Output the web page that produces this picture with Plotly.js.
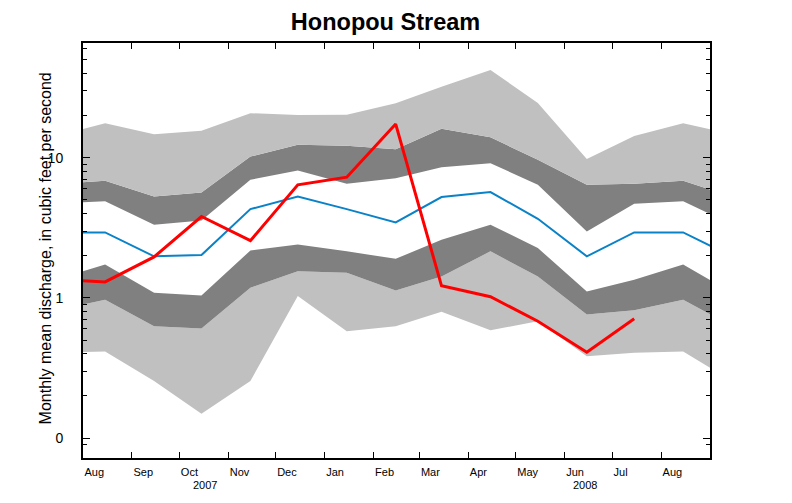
<!DOCTYPE html>
<html>
<head>
<meta charset="utf-8">
<script src="https://cdn.plot.ly/plotly-3.0.1.min.js"></script>
<style>html,body{margin:0;padding:0;background:#fff;}#chart{width:792px;height:503px;}</style>
</head>
<body>
<div id="chart"></div>
<script>
// Monthly dates (mid-month), Jul 2007 .. Sep 2008
const months = ['2007-07-15','2007-08-15','2007-09-15','2007-10-15','2007-11-15','2007-12-15',
  '2008-01-15','2008-02-15','2008-03-15','2008-04-15','2008-05-15','2008-06-15',
  '2008-07-15','2008-08-15','2008-09-15'];
// Percentile band boundaries (cfs), top to bottom
const bandTop      = [14.3, 17.6, 14.7, 15.6, 20.8, 20.2, 20.3, 24.5, 32.1, 42.3, 24.6, 9.8, 14.3, 17.6, 14.7];
const bandUpperMid = [6.52, 6.85, 5.29, 5.65, 10.2, 12.4, 12.2, 11.5, 16.1, 14.0, 9.66, 6.41, 6.52, 6.85, 5.29];
const bandUpperIn  = [4.70, 4.90, 3.33, 3.57, 6.96, 8.11, 6.52, 7.15, 8.57, 9.15, 6.41, 2.98, 4.70, 4.90, 3.33];
const median       = [2.93, 2.93, 1.98, 2.02, 4.30, 5.29, 4.30, 3.46, 5.24, 5.69, 3.67, 1.98, 2.93, 2.93, 1.98];
const bandLowerIn  = [1.35, 1.73, 1.09, 1.04, 2.18, 2.40, 2.15, 1.90, 2.60, 3.33, 2.27, 1.11, 1.35, 1.73, 1.09];
const bandLowerMid = [0.816, 0.97, 0.628, 0.605, 1.18, 1.55, 1.51, 1.13, 1.42, 2.15, 1.42, 0.76, 0.816, 0.97, 0.628];
const bandBottom   = [0.406, 0.414, 0.255, 0.149, 0.255, 1.03, 0.578, 0.628, 0.795, 0.588, 0.681, 0.384, 0.406, 0.414, 0.255];
// Observed monthly mean discharge, Jul 2007 .. Jul 2008
const obsMonths = months.slice(0, 13);
const observed  = [1.36, 1.30, 1.96, 3.81, 2.56, 6.41, 7.27, 17.4, 1.22, 1.02, 0.681, 0.41, 0.709];
// Axis labels
const xTickDates = ['2007-08-01','2007-09-01','2007-10-01','2007-11-01','2007-12-01','2008-01-01',
  '2008-02-01','2008-03-01','2008-04-01','2008-05-01','2008-06-01','2008-07-01','2008-08-01'];
const xTickText = ['Aug','Sep','Oct','Nov','Dec','Jan','Feb','Mar','Apr','May','Jun','Jul','Aug'];
const yTickVals = [0.1, 1, 10];
const yTickText = ['0', '1', '10'];
const yMinorVals = [0.09, 0.2,0.3,0.4,0.5,0.6,0.7,0.8,0.9, 2,3,4,5,6,7,8,9, 20,30,40,50,60];
const yearLabels = [{x: '2007-10-17', text: '2007'}, {x: '2008-06-14', text: '2008'}];

const LIGHT = '#C0C0C0', DARK = '#808080';
function band(y, fill, color) {
  return {x: months, y: y, type: 'scatter', mode: 'lines', line: {width: 0, color: color || 'rgba(0,0,0,0)'},
    fill: fill, fillcolor: color || 'rgba(0,0,0,0)', hoverinfo: 'skip', showlegend: false};
}
const traces = [
  band(bandBottom, 'none', null),
  band(bandLowerMid, 'tonexty', LIGHT),
  band(bandLowerIn, 'tonexty', DARK),
  band(bandUpperIn, 'tonexty', null),
  band(bandUpperMid, 'tonexty', DARK),
  band(bandTop, 'tonexty', LIGHT),
  {x: months, y: median, type: 'scatter', mode: 'lines', line: {color: '#0A82C8', width: 2}, showlegend: false},
  {x: obsMonths, y: observed, type: 'scatter', mode: 'lines', line: {color: '#FF0000', width: 3}, showlegend: false}
];

const FONT = '"Liberation Sans", Arial, Helvetica, sans-serif';
const annotations = yearLabels.map(a => ({x: a.x, y: -0.0645, xref: 'x', yref: 'paper', text: a.text,
  showarrow: false, xanchor: 'center', yanchor: 'middle', font: {family: FONT, size: 11, color: '#000'}}));
annotations.push({x: -0.0606, y: 0.505, xref: 'paper', yref: 'paper', textangle: -90,
  text: 'Monthly mean discharge, in cubic feet per second', showarrow: false,
  xanchor: 'center', yanchor: 'middle', font: {family: FONT, size: 16, color: '#000'}});

const layout = {
  width: 792, height: 503,
  margin: {l: 83, r: 82, t: 43, b: 45},
  paper_bgcolor: '#fff', plot_bgcolor: '#fff',
  font: {family: FONT, color: '#000'},
  title: {text: '<b>Honopou Stream</b>', font: {family: FONT, size: 23.5, color: '#000'},
    x: 0.4825, xref: 'paper', xanchor: 'center', y: 0.956, yanchor: 'middle'},
  xaxis: {type: 'date', range: ['2007-08-01', '2008-09-01'], tickmode: 'array', tickvals: xTickDates, ticktext: xTickText,
    ticks: 'inside', ticklen: 6, tickwidth: 1, tickcolor: '#000', ticklabelstandoff: 3,
    ticklabelposition: 'outside right', tickfont: {family: FONT, size: 11, color: '#000'},
    showline: true, linecolor: '#000', linewidth: 2, mirror: 'ticks', showgrid: false, zeroline: false},
  yaxis: {type: 'log', range: [-1.1425, 1.8189], tickmode: 'array', tickvals: yTickVals, ticktext: yTickText,
    ticks: 'inside', ticklen: 7, tickwidth: 1, tickcolor: '#000', ticklabelstandoff: 15,
    tickfont: {family: FONT, size: 14, color: '#000'},
    minor: {tickmode: 'array', tickvals: yMinorVals, ticks: 'inside', ticklen: 4, tickwidth: 1, tickcolor: '#000', showgrid: false},
    showline: true, linecolor: '#000', linewidth: 2, mirror: 'ticks', showgrid: false, zeroline: false},
  annotations: annotations,
  showlegend: false
};
Plotly.newPlot('chart', traces, layout, {staticPlot: true, displayModeBar: false});
</script>
</body>
</html>
